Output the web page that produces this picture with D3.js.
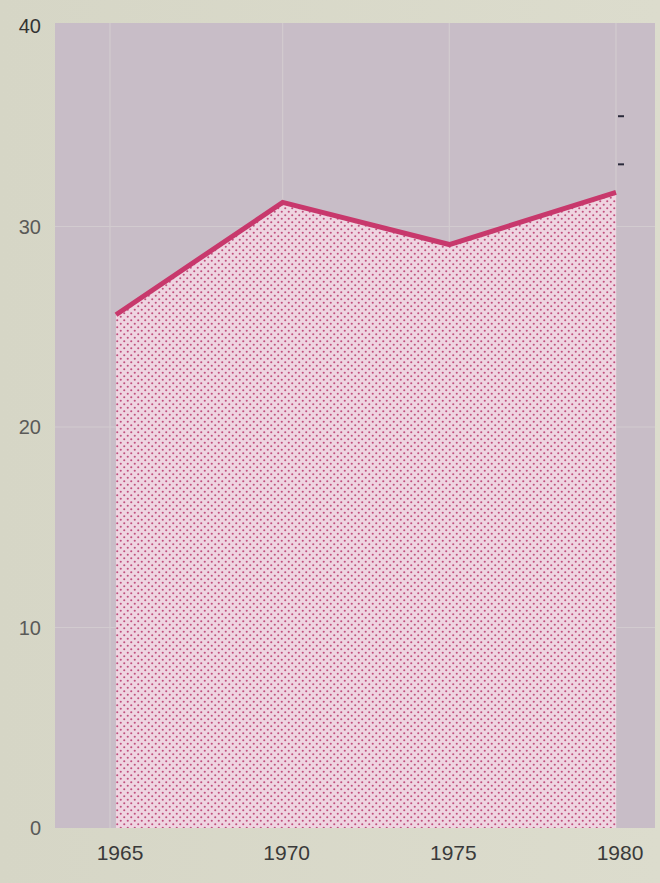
<!DOCTYPE html>
<html>
<head>
<meta charset="utf-8">
<script src="https://cdn.jsdelivr.net/npm/d3@7"></script>
<style>
  body { margin: 0; background: #d8d8ca; }
  svg { display: block; }
</style>
</head>
<body>
<svg></svg>
<script>
const width = 660;
const height = 883;

// data
const years = [1965, 1970, 1975, 1980];
const values = [25.6, 31.2, 29.1, 31.7];
const yTicks = [0, 10, 20, 30, 40];
const xTicks = [1965, 1970, 1975, 1980];

const data = years.map((y, i) => ({ year: y, value: values[i] }));

let svg = d3.select("svg")
    .attr("width", width)
    .attr("height", height);

// page background with a soft light gradient
let defs = svg.append("defs");
let grad = defs.append("linearGradient")
    .attr("id", "page")
    .attr("x1", 0).attr("x2", 1).attr("y1", 0).attr("y2", 0);
grad.append("stop").attr("offset", "0%").attr("stop-color", "#d6d6c6");
grad.append("stop").attr("offset", "100%").attr("stop-color", "#dcdccd");

// dotted fill pattern
let pat = defs.append("pattern")
    .attr("id", "dots")
    .attr("patternUnits", "userSpaceOnUse")
    .attr("width", 7)
    .attr("height", 7);
pat.append("rect").attr("width", 7).attr("height", 7).attr("fill", "#efd5e1");
pat.append("circle").attr("cx", 1.75).attr("cy", 1.75).attr("r", 1.05).attr("fill", "#c0507e");
pat.append("circle").attr("cx", 5.25).attr("cy", 5.25).attr("r", 1.05).attr("fill", "#c0507e");

svg.append("rect")
    .attr("width", width)
    .attr("height", height)
    .attr("fill", "url(#page)");

const x = d3.scaleLinear().domain([1965, 1980]).range([116, 616]);
const y = d3.scaleLinear().domain([0, 40]).range([828, 26]);

// plot background
svg.append("rect")
    .attr("x", 55)
    .attr("y", y(40) - 3)
    .attr("width", 600)
    .attr("height", y(0) - y(40) + 3)
    .attr("fill", "#c8bdc7");

// grid
svg.append("g")
    .selectAll("line.h")
    .data(yTicks.filter(d => d > 0 && d < 40))
    .enter()
    .append("line")
    .attr("x1", 55)
    .attr("x2", 655)
    .attr("y1", d => y(d))
    .attr("y2", d => y(d))
    .attr("stroke", "#d2cbcf")
    .attr("stroke-width", 1.2);

svg.append("g")
    .selectAll("line.v")
    .data(xTicks)
    .enter()
    .append("line")
    .attr("x1", d => x(d) - (d === 1965 ? 6 : 0))
    .attr("x2", d => x(d) - (d === 1965 ? 6 : 0))
    .attr("y1", y(40) - 3)
    .attr("y2", y(0))
    .attr("stroke", "#d2cbcf")
    .attr("stroke-width", 1.2);

// area
let area = d3.area()
    .x(d => x(d.year))
    .y0(y(0))
    .y1(d => y(d.value));

svg.append("path")
    .datum(data)
    .attr("d", area)
    .attr("fill", "url(#dots)");

// line
let line = d3.line()
    .x(d => x(d.year))
    .y(d => y(d.value));

svg.append("path")
    .datum(data)
    .attr("d", line)
    .attr("fill", "none")
    .attr("stroke", "#c8386c")
    .attr("stroke-width", 5)
    .attr("stroke-linejoin", "miter");

// small dashes at the right edge
svg.append("g")
    .selectAll("line.m")
    .data([35.5, 33.1])
    .enter()
    .append("line")
    .attr("x1", x(1980) + 2)
    .attr("x2", x(1980) + 8)
    .attr("y1", d => y(d))
    .attr("y2", d => y(d))
    .attr("stroke", "#2a2a3a")
    .attr("stroke-width", 2);

// y labels
svg.append("g")
    .selectAll("text")
    .data(yTicks)
    .enter()
    .append("text")
    .attr("x", 41)
    .attr("y", d => y(d) + 7)
    .attr("text-anchor", "end")
    .attr("font-family", "Liberation Sans, Arial, sans-serif")
    .attr("font-size", 20)
    .attr("fill", d => d === 40 ? "#333" : "#5a5a58")
    .text(d => d);

// x labels
svg.append("g")
    .selectAll("text")
    .data(xTicks)
    .enter()
    .append("text")
    .attr("x", d => x(d) + 4)
    .attr("y", 860)
    .attr("text-anchor", "middle")
    .attr("font-family", "Liberation Sans, Arial, sans-serif")
    .attr("font-size", 21)
    .attr("fill", "#3a3a3a")
    .text(d => d);
</script>
</body>
</html>
